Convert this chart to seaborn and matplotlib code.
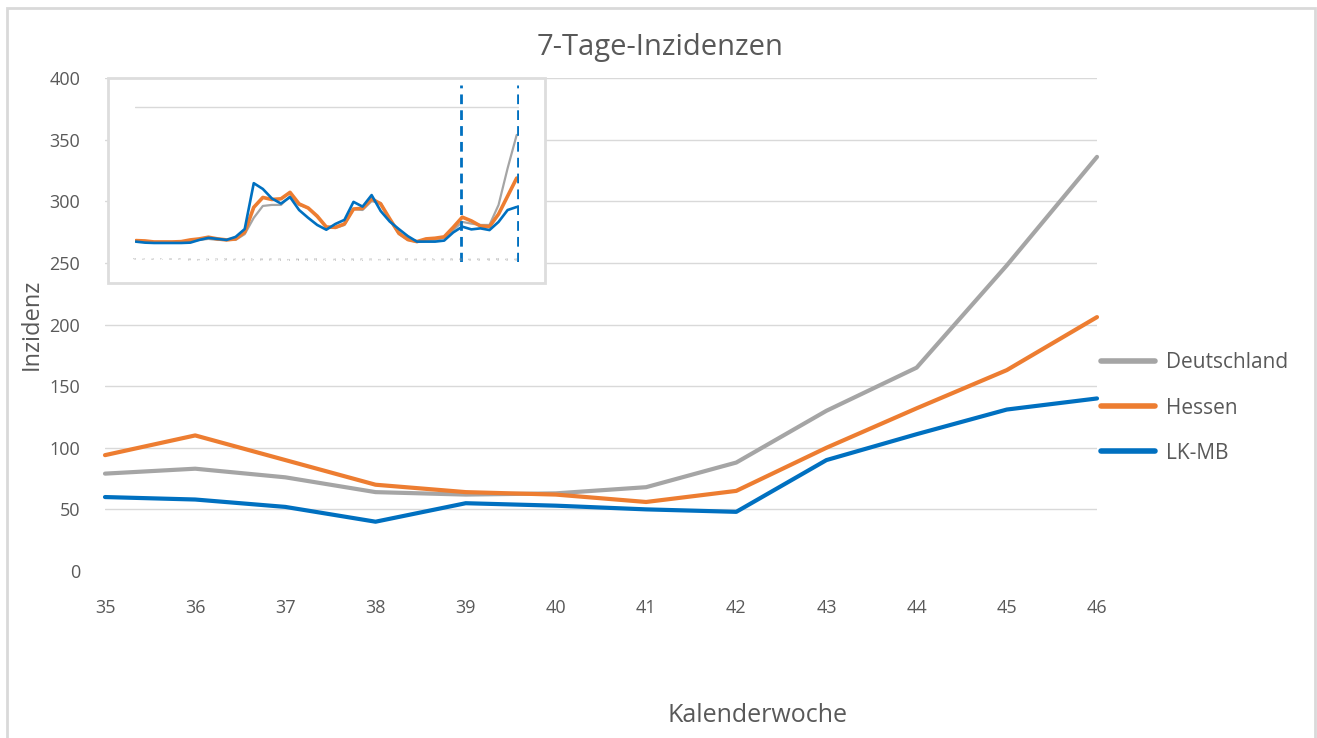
import matplotlib
matplotlib.use("Agg")
import numpy as np
import pandas as pd
import seaborn as sns
import matplotlib.pyplot as plt
from matplotlib.patches import Rectangle

# Hauptdiagramm: KW 35-46
weeks = [35, 36, 37, 38, 39, 40, 41, 42, 43, 44, 45, 46]
deutschland = [79, 83, 76, 64, 62, 63, 68, 88, 130, 165, 248, 336]
hessen = [94, 110, 90, 70, 64, 62, 56, 65, 100, 132, 163, 206]
lk_mb = [60, 58, 52, 40, 55, 53, 50, 48, 90, 111, 131, 140]

# Mini-Diagramm (Gesamtverlauf)
inset_deutschland = [3, 3, 3, 3, 3, 3, 6, 9, 12, 9, 9, 9, 26, 74, 109, 112, 112,
                     138, 112, 103, 76, 47, 44, 53, 100, 97, 123, 118, 68, 26, 9,
                     3, 6, 9, 15, 38, 62, 57, 53, 53, 112, 220, 318]
inset_hessen = [7, 6, 3, 3, 3, 4, 9, 12, 17, 12, 9, 12, 32, 105, 134, 128, 130,
                149, 115, 103, 79, 47, 46, 56, 100, 102, 130, 115, 71, 29, 10,
                4, 12, 14, 18, 46, 76, 65, 50, 48, 85, 138, 191]
inset_lk_mb = [4, 1, 0, 0, 0, 0, 1, 9, 15, 12, 9, 18, 41, 176, 159, 131, 116,
               135, 97, 74, 53, 39, 56, 68, 121, 107, 141, 94, 63, 41, 20,
               4, 4, 4, 7, 31, 48, 40, 43, 38, 62, 97, 106]
inset_labels = [str(k) for k in range(4, 47)]
inset_marks = [35.85, 42.15]

series_names = ["Deutschland", "Hessen", "LK-MB"]
colors = {"Deutschland": "#A5A5A5", "Hessen": "#ED7D31", "LK-MB": "#0070C0"}

df = pd.DataFrame({"Kalenderwoche": weeks, "Deutschland": deutschland,
                   "Hessen": hessen, "LK-MB": lk_mb})
df = df.melt(id_vars="Kalenderwoche", var_name="Gebiet", value_name="Inzidenz")

inset_df = pd.DataFrame({"idx": np.arange(len(inset_labels)),
                         "Deutschland": inset_deutschland,
                         "Hessen": inset_hessen, "LK-MB": inset_lk_mb})
inset_df = inset_df.melt(id_vars="idx", var_name="Gebiet", value_name="Wert")

sns.set_theme(style="white")
plt.rcParams["font.family"] = ["Open Sans", "DejaVu Sans"]
txt = "#595959"

W, H = 1317, 738
fig = plt.figure(figsize=(W / 100, H / 100), dpi=100)


def box(x0, y0, x1, y1):
    return [x0 / W, 1 - y1 / H, (x1 - x0) / W, (y1 - y0) / H]


# Rahmen des Diagrammbereichs
fig.patches.append(Rectangle((7 / W, -0.01), (1315 - 7) / W, 1 - 8 / H + 0.01,
                             transform=fig.transFigure, fill=False,
                             edgecolor="#D9D9D9", lw=2))

ax = fig.add_axes(box(105, 78, 1097, 571))
sns.lineplot(data=df, x="Kalenderwoche", y="Inzidenz", hue="Gebiet",
             hue_order=series_names, palette=colors, lw=3.0, ax=ax,
             legend=False, clip_on=False)
ax.set_xlim(35, 46)
ax.set_ylim(0, 400)
ax.set_xticks(weeks)
ax.set_yticks(range(0, 401, 50))
for y in range(50, 401, 50):
    ax.axhline(y, color="#D9D9D9", lw=1, zorder=0)
sns.despine(ax=ax, left=True, bottom=True)
ax.tick_params(axis="x", length=0, pad=20, labelsize=13, labelcolor=txt)
ax.tick_params(axis="y", length=0, pad=18, labelsize=13, labelcolor=txt)
ax.set_xlabel("")
ax.set_ylabel("Inzidenz", fontsize=17, color=txt)
ax.yaxis.set_label_coords((44 - 105) / (1097 - 105), 0.5)
fig.text(660 / W, 1 - 48 / H, "7-Tage-Inzidenzen", ha="center", va="center",
         fontsize=21, color=txt)
fig.text(757 / W, 1 - 716 / H, "Kalenderwoche", ha="center", va="center",
         fontsize=18, color=txt)

# Legende
handles = [plt.Line2D([], [], color=colors[n], lw=4) for n in series_names]
fig.legend(handles, series_names, loc="center left",
           bbox_to_anchor=(1101 / W, 1 - 408 / H), frameon=False, fontsize=15,
           labelcolor=txt, handlelength=2.6, handletextpad=0.5,
           labelspacing=1.16, borderpad=0, borderaxespad=0)

# Mini-Diagramm oben links
fig.patches.append(Rectangle((108 / W, 1 - 283 / H), (545 - 108) / W,
                             (283 - 78) / H, transform=fig.transFigure,
                             facecolor="white", edgecolor="#DDDDDD", lw=2,
                             zorder=5))
ax2 = fig.add_axes(box(135, 85, 518.5, 262), zorder=6)
ax2.patch.set_alpha(0)
sns.lineplot(data=inset_df, x="idx", y="Wert", hue="Gebiet",
             hue_order=series_names, palette=colors, ax=ax2, legend=False)
for line, lw in zip(ax2.lines, [1.6, 2.6, 1.9]):
    line.set_linewidth(lw)
ax2.lines[2].set_zorder(3)
ax2.set_xlim(-0.1, 42.2)
ax2.set_ylim(-56, 465)
ax2.axhline(400, color="#D9D9D9", lw=1, zorder=0)
for m in inset_marks:
    ax2.axvline(m, color="#0070C0", lw=2, ls=(0, (3.5, 2.2)))
for i, lab in enumerate(inset_labels):
    ax2.text(i, -44, lab, fontsize=2.4, color="#999999", rotation=90,
             ha="center", va="center")
ax2.set_axis_off()

fig.savefig("out.png", dpi=100)
